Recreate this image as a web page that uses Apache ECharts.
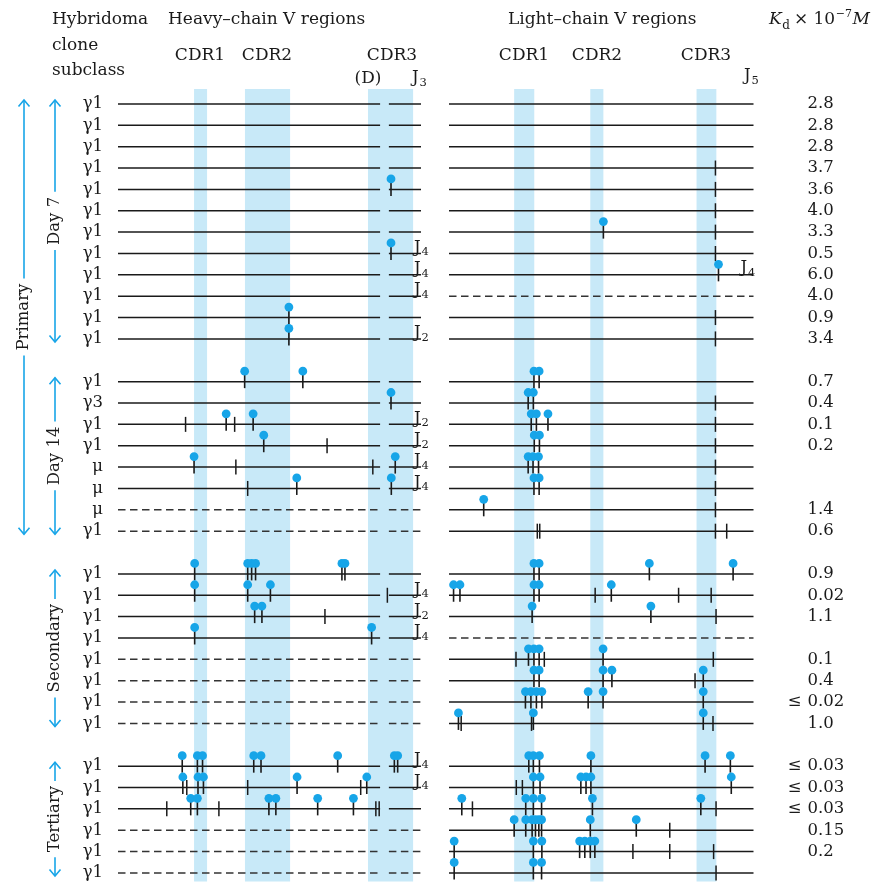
<!DOCTYPE html>
<html><head><meta charset="utf-8">
<script src="https://cdn.jsdelivr.net/npm/echarts@6/dist/echarts.min.js"></script>
<style>html,body{margin:0;padding:0;background:#fff;}#chart{width:873px;height:882px;}</style>
</head><body><div id="chart"></div>
<script>
// ---------------- DATA ----------------
const groupSizes = [12, 8, 8, 6];            // Day 7, Day 14, Secondary, Tertiary
const subclasses = [
  'γ1','γ1','γ1','γ1','γ1','γ1','γ1','γ1','γ1','γ1','γ1','γ1',
  'γ1','γ3','γ1','γ1','μ','μ','μ','γ1',
  'γ1','γ1','γ1','γ1','γ1','γ1','γ1','γ1',
  'γ1','γ1','γ1','γ1','γ1','γ1'
];
const kdValues = [
  '2.8','2.8','2.8','3.7','3.6','4.0','3.3','0.5','6.0','4.0','0.9','3.4',
  '0.7','0.4','0.1','0.2','','','1.4','0.6',
  '0.9','0.02','1.1','','0.1','0.4','≤ 0.02','1.0',
  '≤ 0.03','≤ 0.03','≤ 0.03','0.15','0.2',''
];
// positions along each V region (0 = start, 100 = end of the drawn line)
const heavyCDR = [[25.1, 29.4], [41.9, 56.8], [82.5, 97.4]];
const lightCDR = [[21.4, 28.0], [46.4, 50.7], [81.3, 87.8]];
const heavyGap = [86.5, 89.4];
const heavyDashedRows = [18, 19, 24, 25, 26, 27, 31, 32, 33];
const lightDashedRows = [9, 23];
const heavyJ = ['','','','','','','','4','4','4','','2',
  '','','2','2','4','4','','',
  '','4','2','4','','','','',
  '4','4','','','',''];
const lightJ = ['','','','','','','','','4','','','',
  '','','','','','','','',
  '','','','','','','','',
  '','','','','',''];
const heavyDots = [
  [],[],[],[],[90.1],[],[],[90.1],[],[],[56.4],[56.4],
  [41.8,61.0],[90.1],[35.7,44.6],[48.1],[25.1,91.5],[59.0,90.2],[],[],
  [25.3,42.8,44.1,45.4,73.9,74.9],[25.3,42.8,50.3],[45.1,47.5],[25.3,83.7],[],[],[],[],
  [21.2,26.2,27.9,44.8,47.2,72.5,91.2,92.3],[21.4,26.4,28.2,59.1,82.1],[24.0,26.2,49.8,52.1,65.9,77.7],[],[],[]
];
const heavyTicks = [
  [],[],[],[],[],[],[],[],[],[],[],[],
  [],[],[22.3,38.5],[69.0],[38.9,84.1],[42.8],[],[],
  [],[88.9],[68.3],[],[],[],[],[],
  [],[22.7,42.8,80.1],[16.1,33.3,85.1,86.2],[],[],[]
];
const lightDots = [
  [],[],[],[],[],[],[50.7],[],[88.5],[],[],[],
  [27.9,29.6],[26.0,27.7],[27.0,28.7,32.5],[28.0,29.7],[26.0,27.6,29.4],[27.9,29.6],[11.4],[],
  [27.9,29.6,65.8,93.3],[1.5,3.6,27.9,29.6,53.3],[27.3,66.3],[],[26.1,27.9,29.6,50.6],[27.9,29.6,50.6,53.5,83.5],[25.1,26.9,28.7,30.5,45.7,50.6,83.5],[3.1,27.7,83.5],
  [26.2,27.7,29.7,46.6,84.1,92.4],[27.7,29.9,43.3,45.0,46.6,92.7],[4.2,25.2,27.7,30.4,47.1,82.7],[21.4,25.2,27.3,28.4,29.5,30.4,46.4,61.5],[1.7,27.7,30.5,42.9,44.6,46.4,47.9],[1.7,27.7,30.4]
];
const lightTicks = [
  [],[],[],[87.5],[87.5],[87.5],[87.5],[87.5],[],[],[87.5],[87.5],
  [],[87.5],[87.5],[87.5],[87.5],[87.5],[87.5],[29.0,29.8,87.5,91.2],
  [],[48.0,75.4,86.1],[87.7],[],[22.0,31.3,86.8],[80.8],[],[4.0,27.1,86.7],
  [],[22.1,24.1],[7.7,87.7],[72.5],[60.4,72.5,86.9],[87.7]
];
const arrowSpecs = [
  {label:'Primary', x:24, rows:[0,19]},
  {label:'Day 7', x:55, rows:[0,11]},
  {label:'Day 14', x:55, rows:[12,19]},
  {label:'Secondary', x:55, rows:[20,27]},
  {label:'Tertiary', x:55, rows:[28,33]}
];

// ---------------- STYLE / LAYOUT ----------------
const BLUE = '#17a5e8', BAND = '#c8e9f8', INK = '#1a1a1a';
const FAM = '"DejaVu Serif", "Liberation Serif", serif';
const FS = 16.5, HFS = 17;
const F = (s, it) => (it ? 'italic ' : '') + s + 'px ' + FAM;
const Y_MIN = -0.7, Y_MAX = 36.4;

const rowSlot = [];
{ let s = 0; groupSizes.forEach(n => { for (let i = 0; i < n; i++) rowSlot.push(s + i); s += n + 1; }); }

function txt(x, y, text, align, size, italic, vAlign) {
  return {type:'text', x:x, y:y, style:{text:text, fill:INK, font:F(size || FS, italic),
    align:align || 'left', textAlign:align || 'left',
    verticalAlign:vAlign || 'middle', textVerticalAlign:vAlign || 'middle'}};
}
function jLabel(x, y, n) {
  return [txt(x, y, 'J', 'left'), txt(x + 7.5, y + 5, n, 'left', 11.5)];
}
const rowsData = subclasses.map((_, r) => [0, rowSlot[r], r]);
function pts(arr) { const o = []; arr.forEach((l, r) => l.forEach(u => o.push([u, rowSlot[r]]))); return o; }

function bandRender(p, api) {
  const a = api.coord([api.value(0), api.value(2)]), b = api.coord([api.value(1), api.value(3)]);
  return {type:'rect', shape:{x:a[0], y:a[1], width:b[0]-a[0], height:b[1]-a[1]}, style:{fill:BAND}};
}
function lineRender(chain) {
  return function (p, api) {
    const slot = api.value(1), row = api.value(2);
    const dashed = (chain === 'H' ? heavyDashedRows : lightDashedRows).indexOf(row) >= 0;
    const L = api.coord([0, slot]), R = api.coord([100, slot]);
    const st = {stroke: dashed ? '#333' : INK, lineWidth: 1.5, lineDash: dashed ? [7.5, 4.5] : null};
    if (chain === 'H') {
      const a = api.coord([heavyGap[0], slot]), b = api.coord([heavyGap[1], slot]);
      return {type:'group', children:[
        {type:'line', shape:{x1:L[0], y1:L[1], x2:a[0], y2:L[1]}, style:st},
        {type:'line', shape:{x1:b[0], y1:L[1], x2:R[0], y2:L[1]}, style:st}]};
    }
    return {type:'line', shape:{x1:L[0], y1:L[1], x2:R[0], y2:L[1]}, style:st};
  };
}
function tickRender(p, api) {
  const c = api.coord([api.value(0), api.value(1)]);
  return {type:'line', shape:{x1:c[0], y1:c[1]-7.5, x2:c[0], y2:c[1]+7.5}, style:{stroke:INK, lineWidth:1.5}};
}
function lolliRender(p, api) {
  const c = api.coord([api.value(0), api.value(1)]);
  return {type:'group', children:[
    {type:'line', shape:{x1:c[0], y1:c[1]-8, x2:c[0], y2:c[1]+6.5}, style:{stroke:INK, lineWidth:1.6}},
    {type:'circle', shape:{cx:c[0], cy:c[1]-10.5, r:4.4}, style:{fill:BLUE}}]};
}
function textRender(chain) {
  return function (p, api) {
    const slot = api.value(1), row = api.value(2);
    const L = api.coord([0, slot]), R = api.coord([100, slot]);
    const kids = [];
    if (chain === 'H') {
      kids.push(txt(L[0] - 15, L[1], subclasses[row], 'right'));
      if (heavyJ[row]) kids.push(...jLabel(R[0] - 7, L[1] - 6, heavyJ[row]));
    } else {
      const v = kdValues[row];
      if (v) {
        if (v.charAt(0) === '≤') {
          kids.push(txt(R[0] + 48, L[1], '≤', 'right'));
          kids.push(txt(R[0] + 54, L[1], v.slice(1).trim(), 'left'));
        } else kids.push(txt(R[0] + 54, L[1], v, 'left'));
      }
      if (lightJ[row]) kids.push(...jLabel(R[0] - 13, L[1] - 7, lightJ[row]));
    }
    return {type:'group', children:kids};
  };
}
function chainSeries(gi, chain) {
  const cdr = chain === 'H' ? heavyCDR : lightCDR;
  const base = {type:'custom', xAxisIndex:gi, yAxisIndex:gi, silent:true, animation:false};
  return [
    Object.assign({}, base, {z:1, data: cdr.map(c => [c[0], c[1], Y_MIN, Y_MAX]), encode:{x:[0,1], y:[2,3]}, renderItem: bandRender}),
    Object.assign({}, base, {z:2, data: rowsData, encode:{x:0, y:1}, renderItem: lineRender(chain)}),
    Object.assign({}, base, {z:3, data: pts(chain === 'H' ? heavyTicks : lightTicks), encode:{x:0, y:1}, renderItem: tickRender}),
    Object.assign({}, base, {z:4, data: pts(chain === 'H' ? heavyDots : lightDots), encode:{x:0, y:1}, renderItem: lolliRender}),
    Object.assign({}, base, {z:5, data: rowsData, encode:{x:0, y:1}, renderItem: textRender(chain)})
  ];
}

const chart = echarts.init(document.getElementById('chart'), null, {renderer:'canvas'});
const gridH = {left:118, top:89, width:303, height:792.5};
const gridL = {left:449, top:89, width:304.5, height:792.5};
chart.setOption({
  animation:false,
  backgroundColor:'#fff',
  grid:[gridH, gridL],
  xAxis:[{gridIndex:0, type:'value', min:0, max:100, show:false},
         {gridIndex:1, type:'value', min:0, max:100, show:false}],
  yAxis:[{gridIndex:0, type:'value', min:Y_MIN, max:Y_MAX, inverse:true, show:false},
         {gridIndex:1, type:'value', min:Y_MIN, max:Y_MAX, inverse:true, show:false}],
  series:[].concat(chainSeries(0, 'H'), chainSeries(1, 'L'))
});

// headers and group arrows
const ctx = document.createElement('canvas').getContext('2d');
const g = [];
g.push(txt(52, 20, 'Hybridoma', 'left', HFS), txt(52, 46, 'clone', 'left', HFS), txt(52, 71, 'subclass', 'left', HFS));
g.push(txt(168, 20, 'Heavy–chain V regions', 'left', HFS));
g.push(txt(508, 20, 'Light–chain V regions', 'left', HFS));
g.push(txt(200, 56, 'CDR1', 'center', HFS), txt(267, 56, 'CDR2', 'center', HFS), txt(392, 56, 'CDR3', 'center', HFS));
g.push(txt(524, 56, 'CDR1', 'center', HFS), txt(597, 56, 'CDR2', 'center', HFS), txt(706, 56, 'CDR3', 'center', HFS));
g.push(txt(368, 79, '(D)', 'center', HFS));
g.push(...jLabel(412, 78, '3'));
g.push(...jLabel(744, 76, '5'));
// K_d × 10^-7 M
{
  let x = 769;
  ctx.font = F(HFS, true); g.push(txt(x, 20, 'K', 'left', HFS, true)); x += ctx.measureText('K').width + 0.5;
  ctx.font = F(12); g.push(txt(x, 26, 'd', 'left', 12)); x += ctx.measureText('d').width + 4;
  ctx.font = F(HFS); g.push(txt(x, 20, '× 10', 'left', HFS)); x += ctx.measureText('× 10').width + 0.5;
  ctx.font = F(11); g.push(txt(x, 14, '−7', 'left', 11)); x += ctx.measureText('−7').width + 0.5;
  g.push(txt(x, 20, 'M', 'left', HFS, true));
}
ctx.font = F(FS);
arrowSpecs.forEach(s => {
  const x = s.x;
  const yTop = chart.convertToPixel({yAxisIndex:0}, rowSlot[s.rows[0]]) - 4;
  const yBot = chart.convertToPixel({yAxisIndex:0}, rowSlot[s.rows[1]]) + 3;
  const mid = (yTop + yBot) / 2;
  const w = ctx.measureText(s.label).width;
  const t1 = mid - w / 2 - 5, t2 = mid + w / 2 + 5;
  const st = {stroke:BLUE, lineWidth:1.6, fill:'none'};
  g.push({type:'polyline', shape:{points:[[x-5.5, yTop+6.5],[x, yTop],[x+5.5, yTop+6.5]]}, style:st});
  g.push({type:'line', shape:{x1:x, y1:yTop, x2:x, y2:t1}, style:st});
  g.push({type:'line', shape:{x1:x, y1:t2, x2:x, y2:yBot}, style:st});
  g.push({type:'polyline', shape:{points:[[x-5.5, yBot-6.5],[x, yBot],[x+5.5, yBot-6.5]]}, style:st});
  g.push({type:'text', x:x, y:mid, rotation:Math.PI/2, style:{text:s.label, fill:INK, font:F(FS),
    align:'center', textAlign:'center', verticalAlign:'middle', textVerticalAlign:'middle'}});
});
chart.setOption({graphic: g.map(e => Object.assign({silent:true}, e))});
</script>
</body></html>
